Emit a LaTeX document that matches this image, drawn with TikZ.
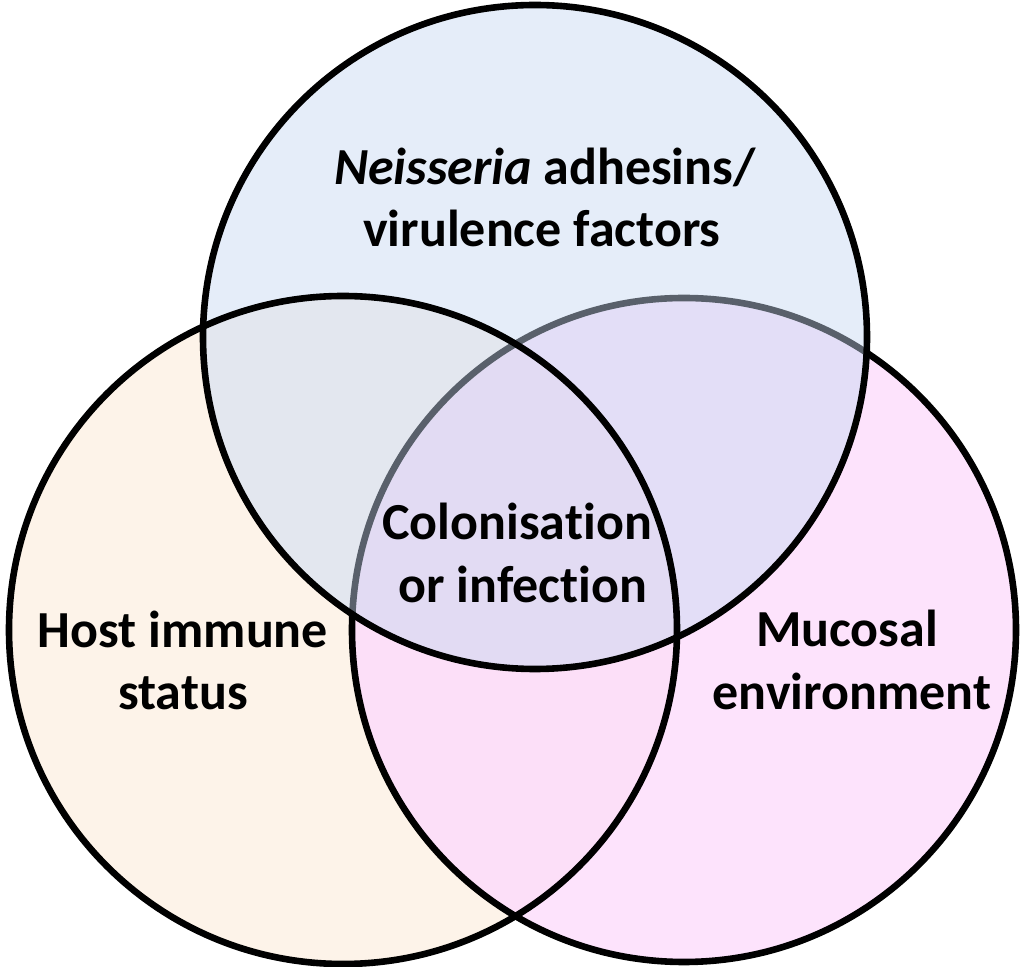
\documentclass[tikz,border=0pt]{standalone}
\usepackage{fontspec}
\setmainfont{Carlito}[RawFeature={-liga;-clig;-dlig}]
\definecolor{cpeach}{HTML}{FDF3E9}
\definecolor{cpink}{HTML}{FDE3FC}
\definecolor{clr}{HTML}{FCDFF8}
\definecolor{cblue}{HTML}{E5EDF9}
\definecolor{ctl}{HTML}{E3E7EF}
\definecolor{ctr}{HTML}{E3DEF7}
\definecolor{cmid}{HTML}{E2DBF3}
\definecolor{cgrayline}{HTML}{59606B}
\tikzset{
  outline/.style={draw=black, line width=3.3pt},
  label/.style={font=\fontsize{26pt}{31pt}\selectfont\bfseries, inner sep=0pt, anchor=base, text=black}
}
\def\Lcirc{(343,630) circle[radius=167pt]}
\def\Rcirc{(684,630) circle[radius=166pt]}
\def\Tcirc{(535,337) circle[radius=166pt]}
\begin{document}
\begin{tikzpicture}[x=0.5pt,y=-0.5pt]
\useasboundingbox (0,0) rectangle (1024,967);
% fills
\fill[cpeach] \Lcirc;
\fill[cpink] \Rcirc;
\begin{scope}\clip \Lcirc; \fill[clr] \Rcirc; \end{scope}
% right outline under the top circle
\draw[outline] \Rcirc;
\fill[cblue] \Tcirc;
\begin{scope}\clip \Tcirc; \fill[ctl] \Lcirc; \end{scope}
\begin{scope}\clip \Tcirc; \fill[ctr] \Rcirc; \end{scope}
\begin{scope}\clip \Tcirc; \clip \Lcirc; \fill[cmid] \Rcirc; \end{scope}
\begin{scope}\clip \Tcirc; \draw[draw=cgrayline, line width=3.3pt] \Rcirc; \end{scope}
\draw[outline] \Tcirc;
\draw[outline] \Lcirc;
% labels
\node[label] (n1) at (545,185) {\textit{Neisseria} adhesins/};
\node[label] (n2) at (542,247) {virulence factors};
\node[label] (c1) at (517,540) {Colonisat\kern0pt ion};
\node[label] (c2) at (523,603) {or infect\kern0pt ion};
\node[label] (h1) at (183,648) {Host immune};
\node[label] (h2) at (183,710) {status};
\node[label] (m1) at (847,647) {Mucosal};
\node[label] (m2) at (852,710) {environment};
\end{tikzpicture}
\end{document}
